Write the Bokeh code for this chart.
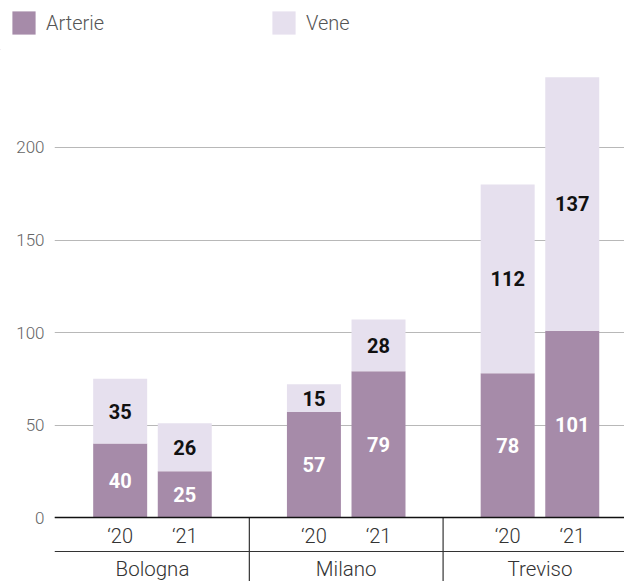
from bokeh.plotting import figure
from bokeh.layouts import column
from bokeh.models import Range1d, FixedTicker, Span, Legend, LegendItem, ColumnDataSource
from bokeh.core.properties import value
from bokeh.embed import file_html
from bokeh.resources import INLINE

# ---- data ----
cities = ["Bologna", "Milano", "Treviso"]
years = ["‘20", "‘21"]
arterie = [40, 25, 57, 79, 78, 101]
vene = [35, 26, 15, 28, 102, 137]          # drawn heights
vene_labels = ["35", "26", "15", "28", "112", "137"]  # printed labels
arterie_labels = ["40", "25", "57", "79", "78", "101"]
series = ["Arterie", "Vene"]
y_ticks = [0, 50, 100, 150, 200]

ART = "#a68ba9"
VEN = "#e6e0ee"
LIGHT = "Roboto Light"

# positions from the category structure
group_step = 3.0
xs, year_lbl, group_x = [], [], []
for i, c in enumerate(cities):
    group_x.append(1 + group_step * i)
    for j, yr in enumerate(years):
        xs.append(1 + group_step * i + (j - 0.5))
        year_lbl.append(yr)
sep_x = [(group_x[k] + group_x[k + 1]) / 2 for k in range(len(group_x) - 1)]

totals = [a + v for a, v in zip(arterie, vene)]
src = ColumnDataSource(dict(
    x=xs, art=arterie, tot=totals,
    art_mid=[a / 2 for a in arterie],
    ven_mid=[a + v / 2 for a, v in zip(arterie, vene)],
    art_lbl=arterie_labels, ven_lbl=vene_labels, year=year_lbl,
))

# ---- legend strip ----
leg = figure(width=624, height=50, x_range=Range1d(0, 624), y_range=Range1d(0, 50),
             output_backend="svg", toolbar_location=None,
             x_axis_location=None, y_axis_location=None,
             min_border_left=0, min_border_right=0, min_border_top=0, min_border_bottom=0)
leg.frame_align = False
leg.outline_line_color = None
leg.grid.visible = False
# swatch renderers (placed outside the visible range; only their legend glyphs show)
d_art = leg.vbar(x=[-100], top=[1], width=1, fill_color=ART, line_color=None)
d_ven = leg.vbar(x=[-100], top=[1], width=1, fill_color=VEN, line_color=None)

def mk_legend(label, r, vx):
    lg = Legend(items=[LegendItem(label=label, renderers=[r])], location=(vx, 12.9),
                orientation="horizontal", glyph_width=29, glyph_height=29,
                label_height=29, label_standoff=8, padding=0, margin=0,
                border_line_color=None, background_fill_alpha=0,
                label_text_font=LIGHT, label_text_font_size="20px",
                label_text_color="#555555")
    leg.add_layout(lg, "center")

mk_legend(series[0], d_art, 9.1)
mk_legend(series[1], d_ven, 269.1)

# ---- main chart ----
p = figure(width=624, height=531,
           x_range=Range1d(-0.517, 8.309), y_range=Range1d(-34.59, 252.43),
           output_backend="svg", toolbar_location=None, x_axis_location=None,
           min_border_left=54, min_border_right=0, min_border_top=0, min_border_bottom=0)
p.frame_align = False
p.outline_line_color = None
p.xgrid.visible = False
p.ygrid.ticker = FixedTicker(ticks=y_ticks)
p.ygrid.grid_line_color = "#b8b8b8"
p.ygrid.grid_line_width = 1
p.yaxis.ticker = FixedTicker(ticks=y_ticks)
p.yaxis.axis_line_color = None
p.yaxis.major_tick_line_color = None
p.yaxis.minor_tick_line_color = None
p.yaxis.major_tick_out = 0
p.yaxis.major_label_standoff = 10
p.yaxis.major_label_text_font = LIGHT
p.yaxis.major_label_text_font_size = "17px"
p.yaxis.major_label_text_color = "#666666"

p.vbar(x="x", width=0.836, bottom=0, top="art", source=src,
       fill_color=ART, line_color=None)
p.vbar(x="x", width=0.836, bottom="art", top="tot", source=src,
       fill_color=VEN, line_color=None)

p.text(x="x", y="art_mid", text="art_lbl", source=src, text_align="center",
       text_baseline="middle", text_font=value("Roboto"), text_font_style="bold",
       text_font_size="20px", text_color="white")
p.text(x="x", y="ven_mid", text="ven_lbl", source=src, text_align="center",
       text_baseline="middle", text_font=value("Roboto"), text_font_style="bold",
       text_font_size="20px", text_color="#111111")

# category axis drawn inside the frame below zero
p.add_layout(Span(location=0, dimension="width", line_color="#111111", line_width=1.5))
p.add_layout(Span(location=-18.38, dimension="width", line_color="#333333", line_width=1.2))
p.segment(x0=sep_x, y0=[0] * len(sep_x), x1=sep_x, y1=[-40] * len(sep_x),
          line_color="#333333", line_width=1.2)
p.text(x="x", y=-9.73, text="year", source=src, text_align="center",
       text_baseline="middle", text_font=value(LIGHT), text_font_size="20px",
       text_color="#333333")
p.text(x=group_x, y=[-28.1] * len(group_x), text=cities, text_align="center",
       text_baseline="middle", text_font=value(LIGHT), text_font_size="20.5px",
       text_color="#333333")

layout = column(leg, p, spacing=0)
open("out.html", "w").write(file_html(layout, INLINE))
